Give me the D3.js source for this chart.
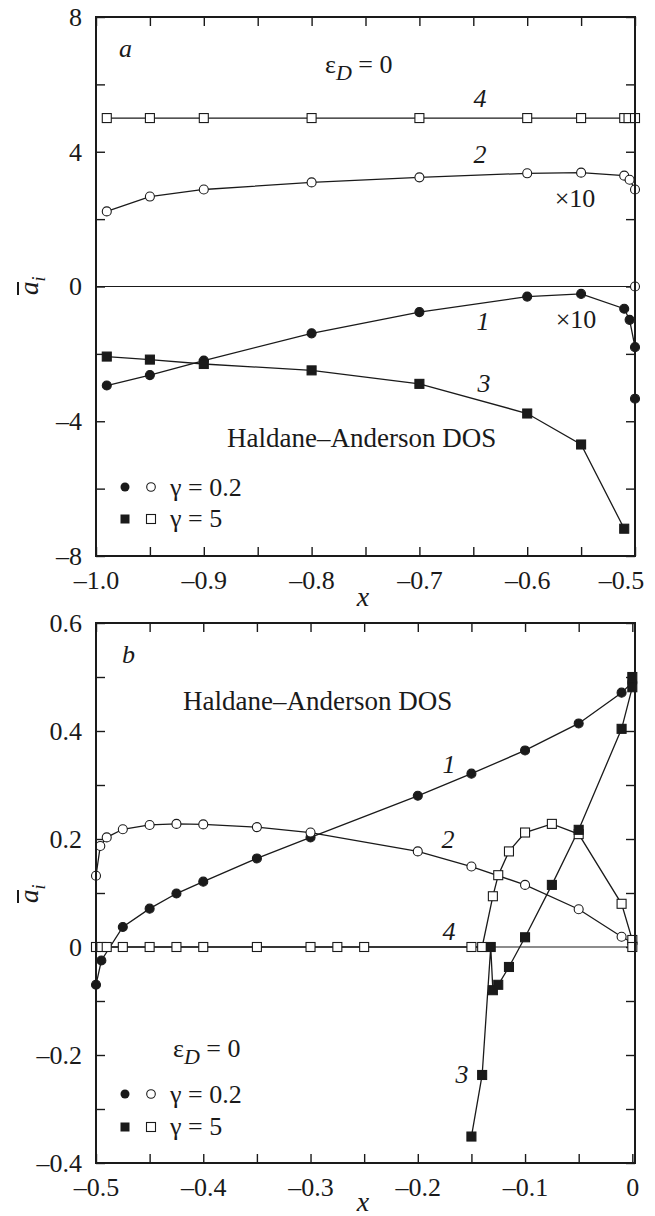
<!DOCTYPE html>
<html>
<head>
<meta charset="utf-8">
<script src="https://cdn.jsdelivr.net/npm/d3@7"></script>
<style>
  body { margin: 0; background: #fff; }
  .tick line { stroke: #1a1a1a; stroke-width: 1.4; }
</style>
</head>
<body>
<div class="d3"></div>
<script>
// ---- panel a ----
const aX1 = [-0.99, -0.95, -0.9, -0.8, -0.7, -0.6, -0.55, -0.51, -0.505, -0.5, -0.5];
const aY1 = [-2.94, -2.63, -2.2, -1.39, -0.76, -0.3, -0.22, -0.66, -0.99, -1.8, -3.33];
const aX2 = [-0.99, -0.95, -0.9, -0.8, -0.7, -0.6, -0.55, -0.51, -0.505, -0.5, -0.5];
const aY2 = [2.23, 2.67, 2.88, 3.09, 3.24, 3.36, 3.38, 3.29, 3.17, 2.88, 0];
const aX3 = [-0.99, -0.95, -0.9, -0.8, -0.7, -0.6, -0.55, -0.51];
const aY3 = [-2.08, -2.17, -2.3, -2.49, -2.89, -3.77, -4.69, -7.19];
const aX4 = [-0.99, -0.95, -0.9, -0.8, -0.7, -0.6, -0.55, -0.51, -0.506, -0.5];
const aY4 = [5, 5, 5, 5, 5, 5, 5, 5, 5, 5];

const aXMajor = [-1.0, -0.9, -0.8, -0.7, -0.6, -0.5];
const aXMinor = [-0.95, -0.85, -0.75, -0.65, -0.55];
const aXLabels = ['\u20131.0', '\u20130.9', '\u20130.8', '\u20130.7', '\u20130.6', '\u20130.5'];
const aYMajor = [8, 4, 0, -4, -8];
const aYMinor = [6, 2, -2, -6];
const aYLabels = ['8', '4', '0', '\u20134', '\u20138'];

// ---- panel b ----
const bX1 = [-0.5, -0.495, -0.475, -0.45, -0.425, -0.4, -0.35, -0.3, -0.2, -0.15, -0.1, -0.05, -0.01, 0];
const bY1 = [-0.07, -0.025, 0.037, 0.071, 0.099, 0.121, 0.164, 0.203, 0.28, 0.321, 0.364, 0.414, 0.471, 0.49];
const bX2 = [-0.5, -0.496, -0.49, -0.475, -0.45, -0.425, -0.4, -0.35, -0.3, -0.2, -0.15, -0.1, -0.05, -0.01, 0];
const bY2 = [0.132, 0.187, 0.203, 0.218, 0.226, 0.228, 0.227, 0.222, 0.212, 0.177, 0.149, 0.115, 0.07, 0.019, 0.008];
const bX3 = [-0.15, -0.14, -0.132, -0.13, -0.125, -0.115, -0.1, -0.075, -0.05, -0.01, 0, 0];
const bY3 = [-0.351, -0.237, 0, -0.08, -0.07, -0.037, 0.018, 0.115, 0.217, 0.404, 0.481, 0.5];
const bX4 = [-0.5, -0.495, -0.49, -0.475, -0.45, -0.425, -0.4, -0.35, -0.3, -0.275, -0.25, -0.15, -0.14,
             -0.13, -0.125, -0.115, -0.1, -0.075, -0.05, -0.01, 0, 0];
const bY4 = [0, 0, 0, 0, 0, 0, 0, 0, 0, 0, 0, 0, 0,
             0.094, 0.133, 0.177, 0.212, 0.228, 0.209, 0.08, 0.013, 0];

const bXMajor = [-0.5, -0.4, -0.3, -0.2, -0.1, 0];
const bXMinor = [-0.45, -0.35, -0.25, -0.15, -0.05];
const bXLabels = ['\u20130.5', '\u20130.4', '\u20130.3', '\u20130.2', '\u20130.1', '0'];
const bYMajor = [0.6, 0.4, 0.2, 0, -0.2, -0.4];
const bYMinor = [0.5, 0.3, 0.1, -0.1, -0.3];
const bYLabels = ['0.6', '0.4', '0.2', '0', '\u20130.2', '\u20130.4'];

const ink = '#1a1a1a';
const width = 655;
const height = 1216;
const left = 96, right = 635;

let svg = d3.select('.d3').append('svg')
  .attr('width', width)
  .attr('height', height);

svg.append('rect').attr('width', width).attr('height', height).attr('fill', '#fff');

function panel(o) {
  let g = svg.append('g');
  let x = d3.scaleLinear().domain(o.xDom).range([left, right]);
  let y = d3.scaleLinear().domain(o.yDom).range([o.bottom, o.top]);

  // zero line
  g.append('line')
    .attr('x1', left).attr('x2', right)
    .attr('y1', y(0)).attr('y2', y(0))
    .attr('stroke', ink).attr('stroke-width', 1.1);

  const clean = s => {
    s.select('.domain').remove();
    s.selectAll('text').style('font-size', '26px').attr('fill', ink);
  };

  let bx = g.append('g').attr('transform', `translate(0,${o.bottom})`)
    .call(d3.axisBottom(x).tickValues(o.xMajor).tickFormat((d, i) => o.xLabels[i]).tickSize(-9).tickPadding(15))
    .call(clean);
  // last label of panel a sits left of its tick, as in the original
  if (o.shiftLast) bx.selectAll('.tick:last-of-type text').attr('dx', -14);
  g.append('g').attr('transform', `translate(0,${o.bottom})`)
    .call(d3.axisBottom(x).tickValues(o.xMinor).tickFormat('').tickSize(-9))
    .call(clean);
  g.append('g').attr('transform', `translate(0,${o.top})`)
    .call(d3.axisTop(x).tickValues(o.xMajor.concat(o.xMinor)).tickFormat('').tickSize(-9))
    .call(clean);
  g.append('g').attr('transform', `translate(${left},0)`)
    .call(d3.axisLeft(y).tickValues(o.yMajor).tickFormat((d, i) => o.yLabels[i]).tickSize(-9).tickPadding(14))
    .call(clean);
  g.append('g').attr('transform', `translate(${left},0)`)
    .call(d3.axisLeft(y).tickValues(o.yMinor).tickFormat('').tickSize(-9))
    .call(clean);
  g.append('g').attr('transform', `translate(${right},0)`)
    .call(d3.axisRight(y).tickValues(o.yMajor.concat(o.yMinor)).tickFormat('').tickSize(-9))
    .call(clean);

  let line = d3.line().x(d => x(d[0])).y(d => y(d[1]));

  o.series.forEach(s => {
    let pts = s.x.map((v, i) => [v, s.y[i]]);
    g.append('path').datum(pts)
      .attr('d', line)
      .attr('fill', 'none')
      .attr('stroke', ink)
      .attr('stroke-width', 1.3);
  });

  o.series.forEach(s => {
    let pts = s.x.map((v, i) => [v, s.y[i]]);
    let fill = s.filled ? ink : '#fff';
    if (s.shape === 'circle') {
      g.selectAll(null).data(pts).enter().append('circle')
        .attr('cx', d => x(d[0])).attr('cy', d => y(d[1]))
        .attr('r', 4.5)
        .attr('fill', fill).attr('stroke', ink).attr('stroke-width', 1.1);
    } else {
      g.selectAll(null).data(pts).enter().append('rect')
        .attr('x', d => x(d[0]) - 4.5).attr('y', d => y(d[1]) - 4.5)
        .attr('width', 9).attr('height', 9)
        .attr('fill', fill).attr('stroke', ink).attr('stroke-width', 1.1);
    }
  });

  // frame
  g.append('rect')
    .attr('x', left).attr('y', o.top)
    .attr('width', right - left).attr('height', o.bottom - o.top)
    .attr('fill', 'none').attr('stroke', ink).attr('stroke-width', 2);

  // y label (a with overbar, subscript i)
  let yl = g.append('g').attr('transform', `translate(33,${o.labelY}) rotate(-90)`);
  let t = yl.append('text').attr('x', -6).attr('y', 5)
    .attr('font-size', 27).attr('font-style', 'italic');
  t.append('tspan').text('a');
  t.append('tspan').attr('font-size', 18).attr('dy', 7).text('i');
  yl.append('line').attr('x1', -6).attr('x2', 7).attr('y1', -15).attr('y2', -15)
    .attr('stroke', ink).attr('stroke-width', 2);

  // x label
  g.append('text').attr('x', 363).attr('y', o.xTitleY)
    .attr('text-anchor', 'middle').attr('font-size', 28).attr('font-style', 'italic')
    .text('x');

  return g;
}

function label(g, px, py, txt, opts) {
  opts = opts || {};
  return g.append('text').attr('x', px).attr('y', py)
    .attr('font-size', opts.size || 26)
    .attr('font-style', opts.italic ? 'italic' : null)
    .attr('text-anchor', opts.anchor || 'start')
    .text(txt);
}

function epsLabel(g, px, py) {
  let t = g.append('text').attr('x', px).attr('y', py).attr('font-size', 26);
  t.append('tspan').text('\u03b5');
  t.append('tspan').attr('font-style', 'italic').attr('font-size', 22).attr('dy', 7).text('D');
  t.append('tspan').attr('dy', -7).text(' = 0');
}

function legend(g, cy1, cy2) {
  g.append('circle').attr('cx', 125).attr('cy', cy1).attr('r', 4.5).attr('fill', ink);
  g.append('circle').attr('cx', 151).attr('cy', cy1).attr('r', 4.3).attr('fill', '#fff')
    .attr('stroke', ink).attr('stroke-width', 1.1);
  g.append('rect').attr('x', 120.5).attr('y', cy2 - 4.5).attr('width', 9).attr('height', 9).attr('fill', ink);
  g.append('rect').attr('x', 146.5).attr('y', cy2 - 4.5).attr('width', 9).attr('height', 9).attr('fill', '#fff')
    .attr('stroke', ink).attr('stroke-width', 1.1);
  label(g, 170, cy1 + 8.5, '\u03b3 = 0.2');
  label(g, 170, cy2 + 8, '\u03b3 = 5');
}

let ga = panel({
  xDom: [-1.0, -0.5], yDom: [-8, 8], top: 17, bottom: 556,
  xMajor: aXMajor, xMinor: aXMinor, xLabels: aXLabels,
  yMajor: aYMajor, yMinor: aYMinor, yLabels: aYLabels,
  labelY: 289, xTitleY: 606, shiftLast: true,
  series: [
    { x: aX1, y: aY1, shape: 'circle', filled: true },
    { x: aX2, y: aY2, shape: 'circle', filled: false },
    { x: aX3, y: aY3, shape: 'square', filled: true },
    { x: aX4, y: aY4, shape: 'square', filled: false }
  ]
});

label(ga, 119, 57, 'a', { italic: true });
epsLabel(ga, 325, 73);
label(ga, 480, 107, '4', { italic: true, anchor: 'middle' });
label(ga, 480, 163, '2', { italic: true, anchor: 'middle' });
label(ga, 575, 207, '\u00d710', { anchor: 'middle' });
label(ga, 483, 330, '1', { italic: true, anchor: 'middle' });
label(ga, 576, 328, '\u00d710', { anchor: 'middle' });
label(ga, 484, 392, '3', { italic: true, anchor: 'middle' });
label(ga, 227, 447, 'Haldane\u2013Anderson DOS', { size: 27 });
legend(ga, 487, 519);

let gb = panel({
  xDom: [-0.5, 0.0025], yDom: [-0.4, 0.6], top: 623, bottom: 1163,
  xMajor: bXMajor, xMinor: bXMinor, xLabels: bXLabels,
  yMajor: bYMajor, yMinor: bYMinor, yLabels: bYLabels,
  labelY: 897, xTitleY: 1211,
  series: [
    { x: bX1, y: bY1, shape: 'circle', filled: true },
    { x: bX2, y: bY2, shape: 'circle', filled: false },
    { x: bX4, y: bY4, shape: 'square', filled: false },
    { x: bX3, y: bY3, shape: 'square', filled: true }
  ]
});

label(gb, 122, 663, 'b', { italic: true });
label(gb, 183, 710, 'Haldane\u2013Anderson DOS', { size: 27 });
label(gb, 449, 773, '1', { italic: true, anchor: 'middle' });
label(gb, 448, 848, '2', { italic: true, anchor: 'middle' });
label(gb, 449, 940, '4', { italic: true, anchor: 'middle' });
label(gb, 462, 1083, '3', { italic: true, anchor: 'middle' });
epsLabel(gb, 173, 1057);
legend(gb, 1094, 1127);

// serif face for every text, set as inline style so it wins over the axis defaults
svg.selectAll('text').style('font-family', '"Liberation Serif"').attr('fill', ink);
</script>
</body>
</html>
